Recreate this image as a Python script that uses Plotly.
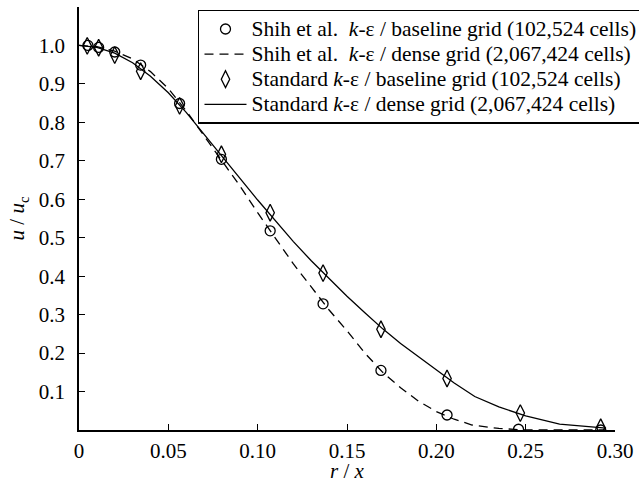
import plotly.graph_objects as go

# Shih et al. k-eps baseline grid (circles)
shih_base_x = [0.005, 0.011, 0.020, 0.0345, 0.0563, 0.0797, 0.107, 0.1366, 0.169, 0.206, 0.246, 0.292]
shih_base_y = [1.000, 0.995, 0.983, 0.949, 0.849, 0.704, 0.518, 0.328, 0.155, 0.039, 0.002, 0.000]

# Shih et al. k-eps dense grid (dashed)
shih_dense_x = [0.0, 0.01, 0.02, 0.03, 0.04, 0.05, 0.06, 0.07, 0.08, 0.09, 0.10, 0.11, 0.12, 0.13,
                0.14, 0.15, 0.16, 0.17, 0.18, 0.19, 0.20, 0.21, 0.22, 0.235, 0.25, 0.295]
shih_dense_y = [1.0, 0.997, 0.985, 0.965, 0.932, 0.888, 0.830, 0.765, 0.700, 0.635, 0.565, 0.497, 0.432, 0.372,
                0.312, 0.258, 0.200, 0.150, 0.110, 0.075, 0.048, 0.028, 0.013, 0.004, 0.0, 0.0]

# Standard k-eps baseline grid (diamonds)
std_base_x = [0.0046, 0.011, 0.020, 0.0345, 0.0563, 0.0797, 0.107, 0.1366, 0.169, 0.206, 0.247, 0.292]
std_base_y = [0.999, 0.994, 0.975, 0.933, 0.843, 0.717, 0.565, 0.408, 0.262, 0.134, 0.044, 0.007]

# Standard k-eps dense grid (solid)
std_dense_x = [0.0, 0.01, 0.02, 0.03, 0.04, 0.05, 0.06, 0.07, 0.08, 0.09, 0.10, 0.11, 0.12, 0.13,
               0.14, 0.15, 0.16, 0.17, 0.18, 0.19, 0.20, 0.21, 0.2215, 0.235, 0.25, 0.269, 0.295]
std_dense_y = [1.0, 0.995, 0.980, 0.955, 0.920, 0.877, 0.826, 0.770, 0.712, 0.655, 0.598, 0.543, 0.490, 0.440,
               0.393, 0.348, 0.305, 0.263, 0.225, 0.190, 0.155, 0.122, 0.087, 0.060, 0.037, 0.015, 0.005]

labels = [
    "Shih et al.\u00a0 <i>k</i>-ε / baseline grid (102,524 cells)",
    "Shih et al.\u00a0 <i>k</i>-ε / dense grid (2,067,424 cells)",
    "Standard <i>k</i>-ε / baseline grid (102,524 cells)",
    "Standard <i>k</i>-ε / dense grid (2,067,424 cells)",
]

x_tickvals = [0, 0.05, 0.10, 0.15, 0.20, 0.25, 0.30]
x_ticktext = ["0", "0.05", "0.10", "0.15", "0.20", "0.25", "0.30"]
y_tickvals = [0.1, 0.2, 0.3, 0.4, 0.5, 0.6, 0.7, 0.8, 0.9, 1.0]
y_ticktext = ["0.1", "0.2", "0.3", "0.4", "0.5", "0.6", "0.7", "0.8", "0.9", "1.0"]

FONT = "Liberation Serif, Times New Roman, serif"


def big(s):
    return '<span style="font-size:21.5px">' + s + '</span>'


fig = go.Figure()
fig.add_trace(go.Scatter(x=shih_dense_x, y=shih_dense_y, mode="lines", name=big(labels[1]),
                         line=dict(color="black", width=1.3, dash="9px,6px"), legendrank=2))
fig.add_trace(go.Scatter(x=std_dense_x, y=std_dense_y, mode="lines", name=big(labels[3]),
                         line=dict(color="black", width=1.3), legendrank=4))
fig.add_trace(go.Scatter(x=shih_base_x, y=shih_base_y, mode="markers", name=big(labels[0]),
                         marker=dict(symbol="circle-open", size=10, color="black", line=dict(width=1.3)),
                         legendrank=1))
fig.add_trace(go.Scatter(x=std_base_x, y=std_base_y, mode="markers", name=big(labels[2]),
                         marker=dict(symbol="diamond-tall-open", size=12, color="black", line=dict(width=1.3)),
                         legendrank=3))

fig.update_layout(
    width=639, height=483,
    margin=dict(l=79, r=24, t=7, b=53, autoexpand=False),
    paper_bgcolor="white", plot_bgcolor="white",
    font=dict(family=FONT, size=21, color="black"),
    showlegend=True,
    legend=dict(x=0.222, y=0.993, xanchor="left", yanchor="top",
                bgcolor="white", bordercolor="black", borderwidth=1.5,
                font=dict(family=FONT, size=17, color="black"),
                traceorder="normal", itemwidth=42),
    xaxis=dict(range=[0, 0.30], showgrid=False, zeroline=False, showline=True, linecolor="black",
               linewidth=1.5, ticks="inside", ticklen=6, tickwidth=1.3, tickcolor="black",
               tickvals=x_tickvals, ticktext=x_ticktext, ticklabelstandoff=1, automargin=True,
               tickfont=dict(family=FONT, size=21),
               title=dict(text="<i>r</i> / <i>x</i>", standoff=5, font=dict(family=FONT, size=21))),
    yaxis=dict(range=[0, 1.1], showgrid=False, zeroline=False, showline=True, linecolor="black",
               linewidth=1.5, ticks="inside", ticklen=6, tickwidth=1.3, tickcolor="black",
               tickvals=y_tickvals, ticktext=y_ticktext, ticklabelstandoff=8,
               tickfont=dict(family=FONT, size=21),
               title=dict(text="<i>u</i> / <i>u</i><sub>c</sub>", standoff=8, font=dict(family=FONT, size=21))),
)

fig.write_html("out.html")
